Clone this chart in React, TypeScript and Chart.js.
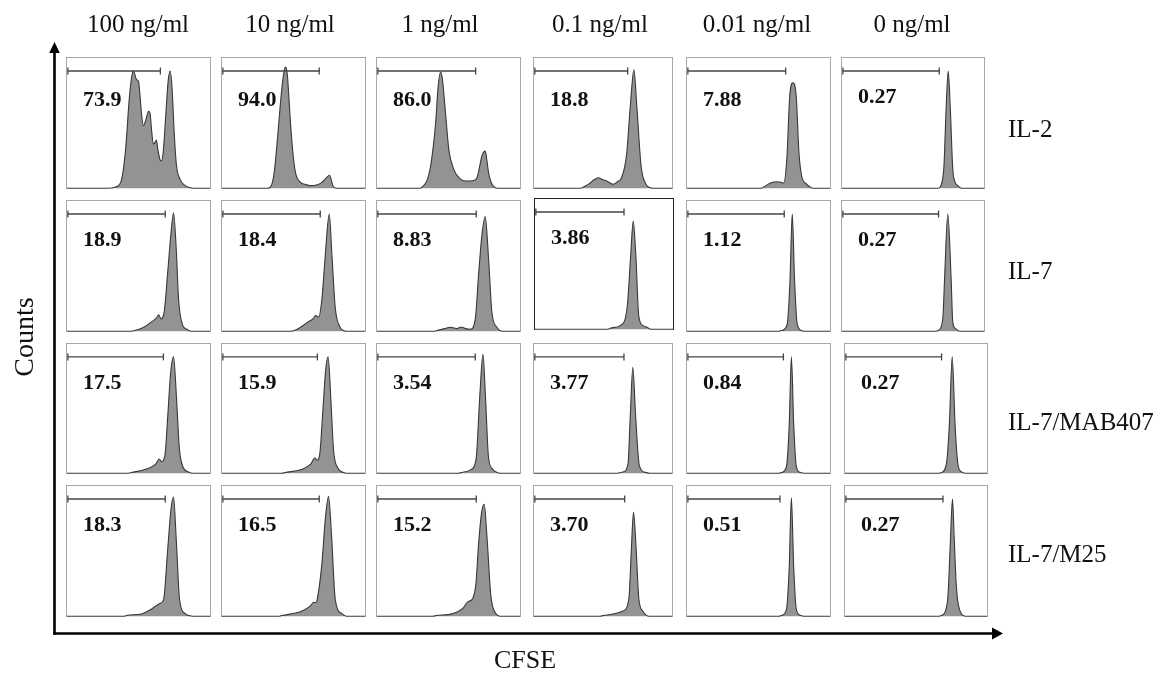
import React, { useEffect, useRef } from "react";
import { Chart, registerables } from "chart.js";

Chart.register(...registerables);

// ---------- DATA ----------
const concentrations = ["100 ng/ml", "10 ng/ml", "1 ng/ml", "0.1 ng/ml", "0.01 ng/ml", "0 ng/ml"];
const treatments = ["IL-2", "IL-7", "IL-7/MAB407", "IL-7/M25"];

const pctIL2 = ["73.9", "94.0", "86.0", "18.8", "7.88", "0.27"];
const pctIL7 = ["18.9", "18.4", "8.83", "3.86", "1.12", "0.27"];
const pctMAB = ["17.5", "15.9", "3.54", "3.77", "0.84", "0.27"];
const pctM25 = ["18.3", "16.5", "15.2", "3.70", "0.51", "0.27"];

// gate upper bound (CFSE, relative channel 0-100)
const gateIL2 = [65.3, 68, 69, 67.9, 69, 68.5];
const gateIL7 = [68.7, 68.7, 69.4, 64.5, 68, 68];
const gateMAB = [67.4, 66.7, 68.7, 65.2, 67.4, 68];
const gateM25 = [68.7, 68, 69.4, 65.7, 65, 69];
const gateCount = 90;

// histograms: [CFSE (relative), counts (% of max)]
const il2_100 = [[0,0],[28,0],[34,1],[38,6],[41,30],[43.5,68],[45.3,86],[46.3,90],[47.3,88],[48.3,84],[49.2,83],[50,82],[51,72],[52.3,55],[53.5,48],[55,52],[57,59],[58,58],[59.2,44],[60.3,34],[61.5,35],[62.5,37],[63.5,30],[65,22],[66,21],[67.3,28],[69,55],[70.8,83],[72.2,90],[73.5,76],[75,42],[76.5,18],[79,7],[82,2.5],[86,0.5],[88,0],[100,0]];
const il2_10 = [[0,0],[32,0],[34,1],[36.5,12],[38.7,37],[41.7,75],[43.3,89],[44.4,93],[45.6,88],[47.9,50],[49.5,28],[51.4,12],[54.9,4.5],[58,3],[62,2],[66,2.5],[69.9,4.5],[73,8],[75.2,10],[76.5,6],[77.5,2],[80,0],[100,0]];
const il2_1 = [[0,0],[30,0],[31.7,1],[35,6],[37.5,17],[41,50],[42.6,76],[44.4,89],[45.6,85],[47.9,58],[50.2,30],[53.7,14.5],[58.3,7],[62,5.5],[65.3,5.6],[67.5,6],[69.9,8],[72,18],[73.4,25],[75.7,28.5],[77,20],[78,12],[80,4],[81.5,1.5],[84,0],[100,0]];
const il2_01 = [[0,0],[34,0],[35.9,1],[40,3.5],[43.5,6.5],[46.6,8],[50,6.5],[52.6,5.6],[57.4,3],[60.5,5],[63.4,8],[67,25],[69.8,63],[72.4,91],[74.5,63],[77.6,17],[81.2,3],[84,0.5],[86,0],[100,0]];
const il2_001 = [[0,0],[52,0],[53.7,1],[58.3,4],[63,5],[66,4.5],[67.6,4],[69.9,24],[71.8,70],[74.1,81],[76.4,70],[78.3,27],[80.3,9],[83.8,3],[86,1],[88,0],[100,0]];
const il2_0 = [[0,0],[67,0],[68.8,0.5],[70.5,5],[71.8,17],[73.4,63],[74.8,90],[76.2,63],[78,15],[79.5,5],[81.5,2],[84,0],[100,0]];

const il7_100 = [[0,0],[45,0],[47.9,0.8],[53.7,3],[58.3,6.6],[62.5,10],[64.1,12.6],[65.7,9.5],[68,15],[70.4,45],[72.7,75],[74.5,91],[76.4,63],[78,25],[80.3,6.6],[83.8,1.5],[87,0],[100,0]];
const il7_10 = [[0,0],[48,0],[52.6,1.5],[59.5,6.6],[64.1,10],[65.3,12],[67.6,11],[69.9,25],[72.2,58],[75,90],[76.9,58],[79.2,18],[82.6,3],[85,0.5],[87,0],[100,0]];
const il7_1 = [[0,0],[40,0],[42.1,0.5],[47,2],[51.4,3],[54,2.5],[56,2],[58,3],[59.5,3],[62,2],[65.3,1.5],[68.8,10],[71,43],[73.4,74],[75.7,88],[78,56],[80.3,15],[83.8,3],[86,0.5],[88,0],[100,0]];
const il7_01 = [[0,0],[53,0],[55,1],[62.1,3],[66.9,18],[69.3,56],[71.2,83],[73.1,56],[75.2,10],[78,3],[81.2,1.5],[84,0],[100,0]];
const il7_001 = [[0,0],[64,0],[66,0.5],[70,5],[72,38],[73.6,90],[75.2,40],[77,6],[80,0.5],[82,0],[100,0]];
const il7_0 = [[0,0],[66,0],[67.6,0.5],[71,10],[72.2,39],[74.5,90],[76.9,39],[78,7],[80,2],[82.6,0],[100,0]];

const mab_100 = [[0,0],[43,0],[45,0.5],[55,3],[62,7],[64.5,11],[66,9],[68.5,14],[70.5,45],[72.5,78],[74.5,90],[76.5,60],[78.5,20],[81,5],[85,1],[88,0],[100,0]];
const mab_10 = [[0,0],[42,0],[44,0.5],[56,3],[62,7],[65,12],[66.5,10],[68.5,16],[70.5,48],[72.5,80],[74.2,90],[76,60],[78,18],[81,4],[85,0.5],[87,0],[100,0]];
const mab_1 = [[0,0],[57,0],[59,0.5],[66,3],[69.4,12],[71.8,58],[74.1,92],[75.9,58],[78,12],[81,3],[84,0.5],[86,0],[100,0]];
const mab_01 = [[0,0],[60,0],[64.5,1],[68.1,7],[69.8,45],[71.6,82],[73.6,45],[76.4,5.6],[81.2,0.5],[84,0],[100,0]];
const mab_001 = [[0,0],[64,0],[66,0.5],[69.5,5],[71.5,38],[73,90],[74.6,38],[76.5,5],[79.5,0.5],[82,0],[100,0]];
const mab_0 = [[0,0],[66,0],[68,0.5],[71.5,8],[73.5,38],[75.5,90],[77.5,38],[79.5,7],[82,1],[85,0],[100,0]];

const m25_100 = [[0,0],[40,0],[42,0.8],[51.4,1.5],[58.3,5],[61.8,7.6],[65.3,10],[67.6,13],[70.4,51],[72.7,82],[74.5,91.6],[76.4,59],[78.7,13],[82.6,2],[86,0.3],[88,0],[100,0]];
const m25_10 = [[0,0],[40,0],[42,0.5],[56,4],[61.8,8],[64.1,10.7],[65.5,10.5],[66.4,12],[69.9,41],[72.2,74],[74.5,92],[76.4,66],[79.2,13],[83.8,2],[87,0],[100,0]];
const m25_1 = [[0,0],[39,0],[41.5,0.5],[53,2],[60,6],[63.4,11],[66.9,13.7],[69.2,25],[71,55],[73.2,80],[75,86],[76.9,61],[79.6,16],[83.1,2],[86,0],[100,0]];
const m25_01 = [[0,0],[48,0],[50.2,0.5],[64.5,4],[68.8,14],[70.5,50],[72.1,80],[74.1,50],[75.9,14],[78.8,4],[83.6,0],[100,0]];
const m25_001 = [[0,0],[64,0],[66,0.5],[69.5,5],[71.5,38],[73,91],[74.6,38],[76.5,5],[79.5,0.5],[82,0],[100,0]];
const m25_0 = [[0,0],[66,0],[67.8,0.5],[72,10],[73,25],[74.3,60],[75.7,90],[76.9,60],[78.3,25],[80,8],[85,0],[100,0]];

const histograms = [
  [il2_100, il2_10, il2_1, il2_01, il2_001, il2_0],
  [il7_100, il7_10, il7_1, il7_01, il7_001, il7_0],
  [mab_100, mab_10, mab_1, mab_01, mab_001, mab_0],
  [m25_100, m25_10, m25_1, m25_01, m25_001, m25_0],
];
const percentages = [pctIL2, pctIL7, pctMAB, pctM25];
const gates = [gateIL2, gateIL7, gateMAB, gateM25];

// ---------- LAYOUT ----------
const colLefts = [66, 221, 376, 533, 686, 841];
const colWidths = [145, 145, 145, 140, 145, 144];
const rowTops = [57, 200, 343, 485];
const rowHeights = [132, 132, 131, 132];
const headerCenters = [138, 290, 440, 600, 757, 912];
const rowLabelBaselines = [137, 279, 430, 562];

const FILL = "#939393";
const LINE = "#383838";
const SERIF = "'Liberation Serif', 'Times New Roman', serif";

function panelBox(r: number, c: number) {
  let left = colLefts[c];
  let top = rowTops[r];
  if (c === 5 && r >= 2) left += 3;
  if (r === 1 && c === 3) { left += 1; top -= 2; }
  return { left, top, width: colWidths[c], height: rowHeights[r] };
}

function Panel({ r, c }: { r: number; c: number }) {
  const ref = useRef<HTMLCanvasElement | null>(null);
  const box = panelBox(r, c);
  const dark = r === 1 && c === 3;
  useEffect(() => {
    if (!ref.current) return;
    const pts = histograms[r][c].map(([x, y]) => ({ x, y }));
    const g = gates[r][c];
    const chart = new Chart(ref.current, {
      type: "line",
      data: {
        datasets: [
          {
            data: [{ x: 0.6, y: gateCount }, { x: g, y: gateCount }],
            borderColor: "#444",
            borderWidth: 1.3,
            pointStyle: "line",
            rotation: 90,
            pointRadius: 3.5,
            pointBorderColor: "#444",
            pointBorderWidth: 1.3,
            fill: false,
            clip: false,
          } as any,
          {
            data: pts,
            borderColor: LINE,
            borderWidth: 1.1,
            backgroundColor: FILL,
            fill: "origin",
            pointRadius: 0,
            cubicInterpolationMode: "monotone",
          } as any,
        ],
      },
      options: {
        animation: false,
        responsive: false,
        events: [],
        layout: { padding: 0, autoPadding: false },
        plugins: { legend: { display: false }, tooltip: { enabled: false } },
        scales: {
          x: { type: "linear", min: 0, max: 100, display: false },
          y: { min: -0.6, max: 100, display: false },
        },
      } as any,
    });
    return () => chart.destroy();
  }, [r, c]);
  const bc = dark ? "#222" : "#a8a8a8";
  return (
    <div
      style={{
        position: "absolute",
        left: box.left,
        top: box.top,
        width: box.width,
        height: box.height,
        borderTop: `1px solid ${bc}`,
        borderLeft: `1px solid ${bc}`,
        borderRight: `1px solid ${bc}`,
        borderBottom: "none",
        boxSizing: "border-box",
        background: "#fff",
      }}
    >
      <canvas ref={ref} width={box.width - 2} height={box.height - 1} style={{ display: "block" }} />
    </div>
  );
}

export default function App() {
  const panels: JSX.Element[] = [];
  const labels: JSX.Element[] = [];
  for (let r = 0; r < 4; r++) {
    for (let c = 0; c < 6; c++) {
      panels.push(<Panel key={`p${r}-${c}`} r={r} c={c} />);
      const b = panelBox(r, c);
      labels.push(
        <text
          key={`t${r}-${c}`}
          x={b.left + 17}
          y={b.top + (r === 0 && c < 5 ? 49 : 46)}
          fontFamily={SERIF}
          fontWeight="bold"
          fontSize={22}
          fill="#111"
        >
          {percentages[r][c]}
        </text>
      );
    }
  }
  return (
    <div style={{ position: "absolute", left: 0, top: 0, width: 1168, height: 675, background: "#fff", overflow: "hidden" }}>
      {panels}
      <svg width={1168} height={675} style={{ position: "absolute", left: 0, top: 0, pointerEvents: "none" }}>
        {concentrations.map((t, i) => (
          <text key={t} x={headerCenters[i]} y={32} textAnchor="middle" fontFamily={SERIF} fontSize={25} fill="#111">
            {t}
          </text>
        ))}
        {treatments.map((t, i) => (
          <text key={t} x={1008} y={rowLabelBaselines[i]} fontFamily={SERIF} fontSize={25} fill="#111">
            {t}
          </text>
        ))}
        {labels}
        <text transform="translate(33,337) rotate(-90)" textAnchor="middle" fontFamily={SERIF} fontSize={28} fill="#111">
          Counts
        </text>
        <text x={525} y={668} textAnchor="middle" fontFamily={SERIF} fontSize={26} fill="#111">
          CFSE
        </text>
        <line x1={54.5} y1={634.5} x2={54.5} y2={52} stroke="#000" strokeWidth={2.6} />
        <polygon points="54.5,42 49.2,53 59.8,53" fill="#000" />
        <line x1={53.2} y1={633.5} x2={993} y2={633.5} stroke="#000" strokeWidth={2.6} />
        <polygon points="1003,633.5 992,627.5 992,639.5" fill="#000" />
      </svg>
    </div>
  );
}
